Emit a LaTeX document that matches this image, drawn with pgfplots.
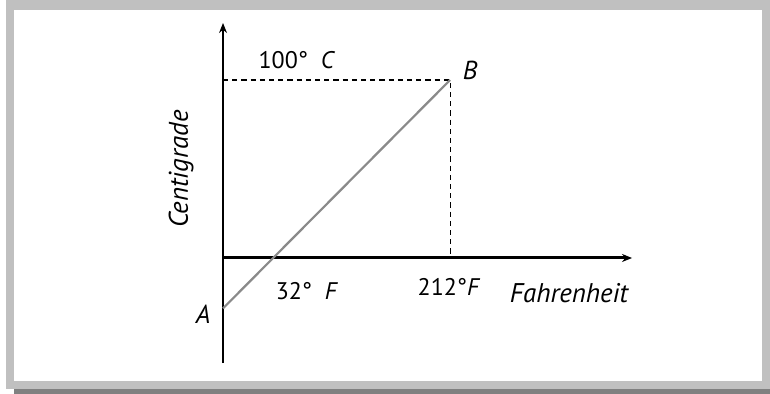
\documentclass[border=0pt]{standalone}
\usepackage{pgfplots}
\pgfplotsset{compat=1.18}
\usepackage{fontspec}
\setmainfont{PT Sans}
\usetikzlibrary{arrows.meta}
\definecolor{framelight}{HTML}{C0C0C0}
\definecolor{framedark}{HTML}{808080}
\definecolor{linegray}{HTML}{8A8A8A}
\begin{document}
\begin{tikzpicture}[x=1pt,y=1pt]
\useasboundingbox (0,0) rectangle (385,197);
% frame
\fill[framelight] (3,2.5) rectangle (385,197);
\fill[white] (7,6.5) rectangle (381,192);
\fill[framedark] (7,0) rectangle (385,2.5);
\begin{axis}[
  at={(120.85pt,68pt)}, anchor=origin,
  scale only axis, width=204.5pt, height=170pt,
  xmin=-19, xmax=397, ymin=-59, ymax=132,
  axis x line=middle, axis y line=left,
  x axis line style={line width=1.5pt,-{Stealth[length=5pt,width=4pt]}},
  y axis line style={line width=0.6pt,-{Stealth[length=5pt,width=4pt]}},
  ticks=none, clip=false,
]
\addplot[black, line width=1.2pt] coordinates {(-19,0) (-19,126)};
\addplot[black, line width=0.6pt, dash pattern=on 2.6pt off 2pt] coordinates {(-19,100) (212,100) (212,0)};
\addplot[linegray, line width=1.1pt] coordinates {(-19,-28.3) (212,100)};
\end{axis}
\node[font=\fontsize{12}{14}\selectfont] at (148.5,167) {100°\ \ \textit{C}};
\node[font=\fontsize{13}{15}\selectfont\itshape] at (235,162) {B};
\node[font=\fontsize{12}{14}\selectfont] at (153.5,51.5) {32°\ \ \textit{F}};
\node[font=\fontsize{12}{14}\selectfont] at (224.5,53.5) {212°\textit{F}};
\node[font=\fontsize{13.5}{15}\selectfont\itshape] at (284.5,50.5) {Fahrenheit};
\node[font=\fontsize{13}{15}\selectfont\itshape] at (101.5,40) {A};
\node[font=\fontsize{13.5}{15}\selectfont\itshape, rotate=90] at (90.5,112.5) {Centigrade};
\end{tikzpicture}
\end{document}
